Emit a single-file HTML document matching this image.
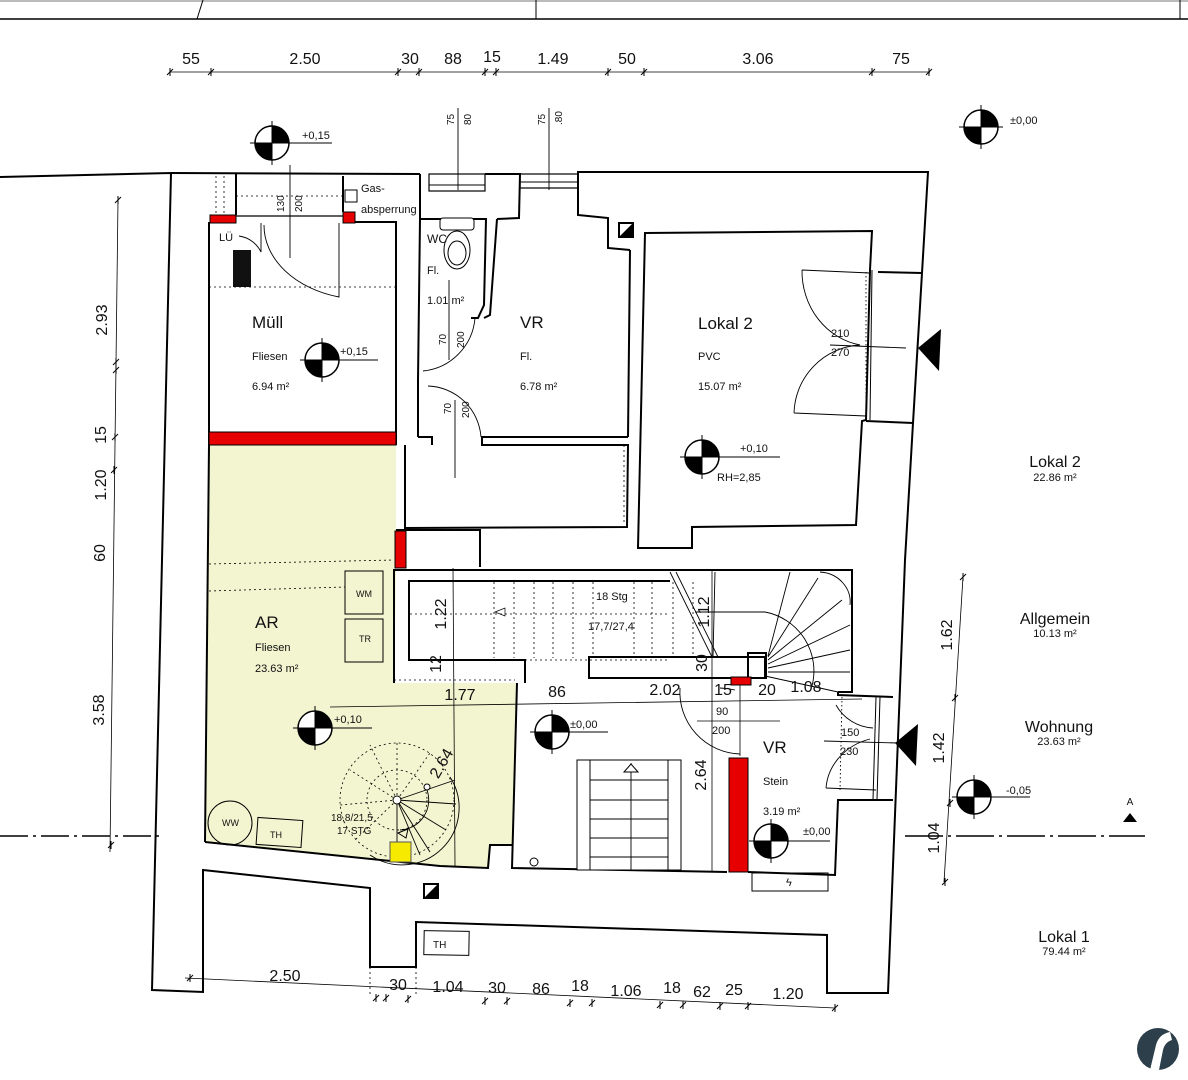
<!DOCTYPE html>
<html><head><meta charset="utf-8"><style>
html,body{margin:0;padding:0;background:#fff;width:1188px;height:1080px;overflow:hidden}
svg{display:block}
text{font-family:"Liberation Sans",sans-serif;fill:#111}
</style></head><body>
<svg width="1188" height="1080" viewBox="0 0 1188 1080" xmlns="http://www.w3.org/2000/svg">
<defs>
<g id="lvl">
<circle r="17" fill="#fff" stroke="#000" stroke-width="1.5"/>
<path d="M0,0 L0,-17 A17,17 0 0 1 17,0 Z" fill="#000"/>
<path d="M0,0 L0,17 A17,17 0 0 1 -17,0 Z" fill="#000"/>
<line x1="-22" y1="0" x2="22" y2="0" stroke="#000"/>
<line x1="0" y1="-22" x2="0" y2="22" stroke="#000"/>
</g>
<g id="tk"><line x1="-3" y1="3" x2="3" y2="-3" stroke="#000"/><line x1="0" y1="-4" x2="0" y2="4" stroke="#000"/></g>
</defs>

<!-- top strip -->
<line x1="0" y1="19" x2="1188" y2="19" stroke="#000" stroke-width="1.5"/>
<line x1="0" y1="1" x2="1188" y2="1" stroke="#bbb" stroke-width="2"/>
<line x1="536" y1="0" x2="536" y2="19" stroke="#000"/>
<line x1="1180" y1="0" x2="1180" y2="19" stroke="#000"/>
<line x1="203" y1="0" x2="197" y2="19" stroke="#000"/>

<!-- top dimension -->
<line x1="170" y1="72" x2="930" y2="72" stroke="#000" stroke-width="0.8"/>
<g><use href="#tk" x="170" y="72"/><use href="#tk" x="211" y="72"/><use href="#tk" x="398" y="72"/><use href="#tk" x="419" y="72"/><use href="#tk" x="485" y="72"/><use href="#tk" x="496" y="72"/><use href="#tk" x="608" y="72"/><use href="#tk" x="644" y="72"/><use href="#tk" x="872" y="72"/><use href="#tk" x="929" y="72"/></g>
<g font-size="16" text-anchor="middle">
<text x="191" y="64">55</text><text x="305" y="64">2.50</text><text x="410" y="64">30</text><text x="453" y="64">88</text><text x="492" y="62">15</text><text x="553" y="64">1.49</text><text x="627" y="64">50</text><text x="758" y="64">3.06</text><text x="901" y="64">75</text>
</g>

<!-- left dimension -->
<line x1="118" y1="200" x2="110" y2="852" stroke="#000" stroke-width="0.8"/>
<g><use href="#tk" x="118" y="200"/><use href="#tk" x="116" y="362"/><use href="#tk" x="116" y="370"/><use href="#tk" x="115" y="437"/><use href="#tk" x="114" y="470"/><use href="#tk" x="111" y="845"/></g>
<g font-size="16" text-anchor="middle">
<text transform="translate(107,320) rotate(-90)">2.93</text>
<text transform="translate(106,435) rotate(-90)">15</text>
<text transform="translate(106,485) rotate(-90)">1.20</text>
<text transform="translate(105,553) rotate(-90)">60</text>
<text transform="translate(104,710) rotate(-90)">3.58</text>
</g>

<!-- right dimension -->
<line x1="963" y1="577" x2="944" y2="882" stroke="#000" stroke-width="0.8"/>
<g><use href="#tk" x="963" y="577"/><use href="#tk" x="955" y="698"/><use href="#tk" x="950" y="803"/><use href="#tk" x="945" y="882"/></g>
<g font-size="16" text-anchor="middle">
<text transform="translate(952,635) rotate(-90)">1.62</text>
<text transform="translate(944,748) rotate(-90)">1.42</text>
<text transform="translate(939,838) rotate(-90)">1.04</text>
</g>

<!-- dash-dot section line -->
<line x1="0" y1="836" x2="160" y2="836" stroke="#000" stroke-width="1.5" stroke-dasharray="28,5,3,5"/>
<line x1="905" y1="836" x2="1145" y2="836" stroke="#000" stroke-width="1.5" stroke-dasharray="38,5,3,5"/>
<polygon points="1123,822 1137,822 1130,813" fill="#000"/>
<text x="1130" y="805" font-size="10" text-anchor="middle">A</text>

<!-- AR fill -->
<polygon points="209,445 396,445 396,570 394,683 517,683 512,845 490,845 488,868 440,866 205,842" fill="#f2f5cf"/>

<g fill="none" stroke="#000" stroke-width="2">
<!-- outer outline -->
<polyline points="0,177 171,173 152,990 203,992 203,870 370,888 370,967 416,967 416,922 827,935 827,993 888,993 905,560 913,423 922,273 928,172 578,172 578,215 608,218 608,248 630,250"/>
<line x1="171" y1="173" x2="420" y2="174"/>
<!-- top windows -->
<polyline points="420,174 420,218"/>
<rect x="429" y="174" width="56" height="17" stroke-width="1.2"/>
<line x1="429" y1="185" x2="485" y2="185" stroke-width="1"/>
<polyline points="485,174 520,174 519,218 497,219"/>
<rect x="520" y="174" width="58" height="14" stroke-width="1.2"/>
<line x1="520" y1="182" x2="578" y2="182" stroke-width="1"/>
<!-- Gas -->
<polyline points="343,212 343,176"/>
<rect x="345" y="190" width="12" height="12" stroke-width="1"/>
<polyline points="236,215 236,174"/>
<line x1="236" y1="216" x2="343" y2="216" stroke-width="1.2"/>
<!-- Müll -->
<polyline points="209,222 209,445"/>
<polyline points="355,222 396,222 396,445"/>
<!-- WC -->
<polyline points="418,437 418,380 420,219 486,219 484,305 478,318 471,318"/>
<polyline points="418,437 432,437 432,445"/>
<polyline points="405,445 405,528 627,527 628,445 482,445 482,437 628,437"/>
<!-- VR -->
<polyline points="497,219 490,315 484,318"/>
<polyline points="630,250 628,437"/>
<!-- Lokal 2 -->
<polygon points="645,233 872,231 870,270 866,420 862,421 856,525 692,527 692,548 638,548"/>
<polyline points="878,272 922,273"/>
<polyline points="866,421 913,423"/>
<!-- small wall between -->
<polyline points="396,530 480,530 480,567"/>
<!-- stair box -->
<polyline points="394,683 394,570 852,570 852,692 838,692"/>
<polyline points="525,683 525,660 409,660 409,581 670,581"/>
<rect x="589" y="657" width="176" height="21"/>
<rect x="748" y="653" width="18" height="25"/>
<!-- lower hall -->
<polyline points="517,683 512,868 727,872"/>
<polyline points="748,872 835,875 838,800 893,800"/>
<polyline points="838,692 838,695 893,697"/>
<rect x="752" y="873" width="76" height="18" stroke-width="1"/>
<!-- AR -->
<polyline points="205,842 440,866 488,868 490,845 512,845"/>
<polyline points="209,445 205,842"/>
</g>

<!-- red walls -->
<g fill="#e60000" stroke="#000" stroke-width="1">
<rect x="210" y="215" width="26" height="8"/>
<rect x="343" y="212" width="12" height="11"/>
<rect x="209" y="432" width="187" height="13"/>
<rect x="395" y="531" width="11" height="37"/>
<rect x="731" y="677" width="20" height="8"/>
<rect x="729" y="758" width="19" height="114"/>
</g>

<!-- details Müll -->
<rect x="233" y="250" width="18" height="37" fill="#111"/>
<line x1="209" y1="287" x2="396" y2="287" stroke="#000" stroke-dasharray="2,3" stroke-width="0.8"/>
<path d="M261,223 L261,252 A29,29 0 0 0 239,236" fill="none" stroke="#000" stroke-width="0.9"/>
<path d="M339,223 L339,297 A100,74 0 0 1 264,225" fill="none" stroke="#000" stroke-width="0.9"/>
<line x1="290" y1="165" x2="290" y2="258" stroke="#000" stroke-width="0.9"/>
<text transform="translate(284,212) rotate(-90)" font-size="10">130</text>
<text transform="translate(302,212) rotate(-90)" font-size="10">200</text>
<line x1="236" y1="196" x2="343" y2="196" stroke="#000" stroke-dasharray="2,3" stroke-width="0.8"/>
<line x1="216" y1="176" x2="216" y2="215" stroke="#000" stroke-dasharray="2,3" stroke-width="0.8"/>
<line x1="224" y1="176" x2="224" y2="215" stroke="#000" stroke-dasharray="2,3" stroke-width="0.8"/>
<text x="219" y="241" font-size="11">LÜ</text>
<text x="361" y="192" font-size="11">Gas-</text>
<text x="361" y="213" font-size="11">absperrung</text>
<text x="252" y="328" font-size="17">Müll</text>
<text x="252" y="360" font-size="11">Fliesen</text>
<text x="252" y="390" font-size="11">6.94 m²</text>
<use href="#lvl" x="322" y="360"/><line x1="338" y1="360" x2="378" y2="360" stroke="#000"/>
<text x="340" y="355" font-size="11">+0,15</text>
<use href="#lvl" x="272" y="143"/><line x1="288" y1="143" x2="332" y2="143" stroke="#000"/>
<text x="302" y="139" font-size="11">+0,15</text>

<!-- WC details -->
<rect x="440" y="218" width="34" height="12" rx="3" fill="#fff" stroke="#000"/>
<ellipse cx="457" cy="250" rx="13" ry="19" fill="#fff" stroke="#000"/>
<ellipse cx="457" cy="253" rx="9" ry="12" fill="none" stroke="#000"/>
<text x="427" y="243" font-size="12">WC</text>
<text x="427" y="274" font-size="11">Fl.</text>
<text x="427" y="304" font-size="11">1.01 m²</text>
<path d="M423,371 A58,58 0 0 0 475,318" fill="none" stroke="#000" stroke-width="0.9"/>
<line x1="449" y1="280" x2="449" y2="360" stroke="#000" stroke-width="0.9"/>
<text transform="translate(446,345) rotate(-90)" font-size="10">70</text>
<text transform="translate(464,348) rotate(-90)" font-size="10">200</text>
<path d="M428,386 A55,55 0 0 1 481,437" fill="none" stroke="#000" stroke-width="0.9"/>
<line x1="455" y1="400" x2="455" y2="478" stroke="#000" stroke-width="0.9"/>
<text transform="translate(451,414) rotate(-90)" font-size="10">70</text>
<text transform="translate(469,418) rotate(-90)" font-size="10">200</text>
<line x1="624" y1="445" x2="624" y2="525" stroke="#000" stroke-dasharray="2,3" stroke-width="0.8"/>
<text x="520" y="328" font-size="17">VR</text>
<text x="520" y="360" font-size="11">Fl.</text>
<text x="520" y="390" font-size="11">6.78 m²</text>
<line x1="458" y1="108" x2="458" y2="190" stroke="#000" stroke-width="0.9"/>
<text transform="translate(454,125) rotate(-90)" font-size="10">75</text>
<text transform="translate(471,125) rotate(-90)" font-size="10">80</text>
<line x1="549" y1="108" x2="549" y2="190" stroke="#000" stroke-width="0.9"/>
<text transform="translate(545,125) rotate(-90)" font-size="10">75</text>
<text transform="translate(562,125) rotate(-90)" font-size="10">.80</text>
<rect x="619" y="223" width="14" height="14" fill="#fff" stroke="#000" stroke-width="2"/>
<polygon points="633,223 633,237 619,237" fill="#000"/>

<!-- Lokal 2 details -->
<text x="698" y="329" font-size="17">Lokal 2</text>
<text x="698" y="360" font-size="11">PVC</text>
<text x="698" y="390" font-size="11">15.07 m²</text>
<path d="M802,270 L870,273 M802,270 A70,75 0 0 0 860,345" fill="none" stroke="#000" stroke-width="0.9"/>
<path d="M794,413 L866,416 M794,413 A70,70 0 0 1 860,345" fill="none" stroke="#000" stroke-width="0.9"/>
<line x1="830" y1="345" x2="906" y2="348" stroke="#000" stroke-width="0.9"/>
<line x1="866" y1="272" x2="866" y2="420" stroke="#000" stroke-dasharray="1.5,2.5" stroke-width="0.9"/>
<line x1="872" y1="270" x2="870" y2="420" stroke="#000" stroke-width="1"/>
<text x="831" y="337" font-size="11">210</text>
<text x="831" y="356" font-size="11">270</text>
<polygon points="918,348 941,329 939,371" fill="#000"/>
<use href="#lvl" x="702" y="457"/><line x1="718" y1="457" x2="780" y2="457" stroke="#000"/>
<text x="740" y="452" font-size="11">+0,10</text>
<text x="717" y="481" font-size="11">RH=2,85</text>
<use href="#lvl" x="981" y="127"/>
<text x="1010" y="124" font-size="11">±0,00</text>

<!-- stairs -->
<g stroke="#000" stroke-width="0.8" stroke-dasharray="2,3" fill="none">
<line x1="410" y1="614" x2="670" y2="614"/>
<line x1="410" y1="660" x2="670" y2="660"/>
<line x1="494" y1="582" x2="494" y2="658"/><line x1="514" y1="582" x2="514" y2="658"/><line x1="534" y1="582" x2="534" y2="658"/><line x1="553" y1="582" x2="553" y2="658"/><line x1="573" y1="582" x2="573" y2="658"/><line x1="593" y1="582" x2="593" y2="658"/><line x1="634" y1="582" x2="634" y2="658"/><line x1="652" y1="582" x2="652" y2="658"/><line x1="673" y1="582" x2="673" y2="658"/><line x1="693" y1="582" x2="693" y2="658"/>
<line x1="394" y1="680" x2="515" y2="680"/>
</g>
<g stroke="#000" stroke-width="0.9" fill="none">
<line x1="670" y1="572" x2="712" y2="657"/><line x1="676" y1="572" x2="718" y2="657"/>
<line x1="715" y1="572" x2="713" y2="657"/>
<line x1="768" y1="656" x2="790" y2="572"/>
<line x1="768" y1="657" x2="818" y2="578"/>
<line x1="768" y1="660" x2="842" y2="600"/>
<line x1="768" y1="664" x2="850" y2="625"/>
<line x1="768" y1="668" x2="850" y2="650"/>
<line x1="768" y1="672" x2="850" y2="672"/>
<line x1="765" y1="676" x2="838" y2="692"/>
<path d="M820,572 A32,30 0 0 1 850,605"/>
<path d="M695,612 L765,612 A60,60 0 0 1 812,686"/>
<path d="M735,690 A70,70 0 0 0 720,688"/>
</g>
<text x="596" y="600" font-size="11">18 Stg</text>
<text x="588" y="630" font-size="11">17,7/27,4</text>
<path d="M495,612 L505,608 L505,616 Z" fill="none" stroke="#000" stroke-width="0.7"/>
<g font-size="16" text-anchor="middle">
<text transform="translate(446,614) rotate(-90)">1.22</text>
<text transform="translate(441,664) rotate(-90)">12</text>
<text transform="translate(709,612) rotate(-90)">1.12</text>
<text transform="translate(707,663) rotate(-90)">30</text>
<text x="460" y="700">1.77</text><text x="557" y="697">86</text><text x="665" y="695">2.02</text><text x="723" y="695">15</text><text x="767" y="695">20</text><text x="806" y="692">1.08</text>
<text transform="translate(706,775) rotate(-90)">2.64</text>
<text transform="translate(446,766) rotate(-60)">2.64</text>
</g>
<line x1="453" y1="568" x2="455" y2="866" stroke="#000" stroke-width="0.8"/>
<line x1="330" y1="707" x2="862" y2="699" stroke="#000" stroke-width="0.8"/>
<line x1="712" y1="570" x2="712" y2="872" stroke="#000" stroke-width="0.8"/>
<line x1="740" y1="685" x2="740" y2="756" stroke="#000" stroke-width="0.8"/>
<line x1="697" y1="721" x2="780" y2="721" stroke="#000" stroke-width="0.8"/>
<text x="716" y="715" font-size="11">90</text>
<text x="712" y="734" font-size="11">200</text>
<path d="M680,688 A62,62 0 0 0 740,754" fill="none" stroke="#000" stroke-width="0.9"/>

<!-- lower hall -->
<use href="#lvl" x="552" y="732"/><line x1="568" y1="732" x2="608" y2="732" stroke="#000"/>
<text x="570" y="728" font-size="11">±0,00</text>
<rect x="577" y="760" width="104" height="110" fill="#fff" stroke="#000"/>
<rect x="590" y="760" width="78" height="110" fill="none" stroke="#000"/>
<g stroke="#000" stroke-width="0.9"><line x1="590" y1="780" x2="668" y2="780"/><line x1="590" y1="800" x2="668" y2="800"/><line x1="590" y1="819" x2="668" y2="819"/><line x1="590" y1="838" x2="668" y2="838"/><line x1="590" y1="857" x2="668" y2="857"/><line x1="631" y1="763" x2="631" y2="870"/></g>
<polygon points="624,772 638,772 631,764" fill="#fff" stroke="#000"/>
<circle cx="534" cy="862" r="4" fill="#fff" stroke="#000"/>
<text x="763" y="753" font-size="17">VR</text>
<text x="763" y="785" font-size="11">Stein</text>
<text x="763" y="815" font-size="11">3.19 m²</text>
<use href="#lvl" x="771" y="841"/><line x1="787" y1="841" x2="830" y2="841" stroke="#000"/>
<text x="803" y="835" font-size="11">±0,00</text>
<text x="786" y="886" font-size="11">ϟ</text>
<path d="M836,705 A45,45 0 0 0 873,728" fill="none" stroke="#000" stroke-width="0.9"/>
<path d="M826,788 L876,790 M826,788 A60,55 0 0 1 870,739" fill="none" stroke="#000" stroke-width="0.9"/>
<line x1="824" y1="741" x2="898" y2="743" stroke="#000" stroke-width="0.9"/>
<line x1="842" y1="697" x2="840" y2="790" stroke="#000" stroke-dasharray="1.5,2.5" stroke-width="0.9"/>
<line x1="876" y1="697" x2="873" y2="800" stroke="#000" stroke-width="1"/>
<line x1="880" y1="697" x2="877" y2="800" stroke="#000" stroke-width="1"/>
<text x="841" y="736" font-size="11">150</text>
<text x="840" y="755" font-size="11">230</text>
<polygon points="895,743 918,724 916,766" fill="#000"/>
<use href="#lvl" x="974" y="797"/><line x1="990" y1="797" x2="1030" y2="797" stroke="#000"/>
<text x="1006" y="794" font-size="11">-0,05</text>

<!-- AR details -->
<text x="255" y="628" font-size="17">AR</text>
<text x="255" y="651" font-size="11">Fliesen</text>
<text x="255" y="672" font-size="11">23.63 m²</text>
<rect x="345" y="571" width="38" height="43" fill="none" stroke="#000"/>
<text x="356" y="597" font-size="9">WM</text>
<rect x="345" y="619" width="38" height="43" fill="none" stroke="#000"/>
<text x="359" y="642" font-size="9">TR</text>
<line x1="209" y1="564" x2="394" y2="560" stroke="#000" stroke-dasharray="2,3" stroke-width="0.8"/>
<line x1="209" y1="591" x2="345" y2="587" stroke="#000" stroke-dasharray="2,3" stroke-width="0.8"/>
<use href="#lvl" x="315" y="728"/><line x1="331" y1="728" x2="372" y2="728" stroke="#000"/>
<text x="334" y="723" font-size="11">+0,10</text>
<circle cx="230" cy="823" r="22" fill="none" stroke="#000"/>
<text x="222" y="826" font-size="9">WW</text>
<rect x="257" y="819" width="45" height="27" fill="none" stroke="#000" transform="rotate(4 280 832)"/>
<text x="270" y="838" font-size="9">TH</text>
<g stroke="#000" stroke-width="0.8" fill="none" stroke-dasharray="2,3">
<circle cx="397" cy="800" r="57"/><circle cx="397" cy="800" r="30"/>
<line x1="397" y1="800" x2="397" y2="743"/><line x1="397" y1="800" x2="350" y2="770"/><line x1="397" y1="800" x2="340" y2="805"/><line x1="397" y1="800" x2="355" y2="840"/><line x1="397" y1="800" x2="430" y2="753"/><line x1="397" y1="800" x2="370" y2="745"/>
</g>
<g stroke="#000" stroke-width="0.9" fill="none">
<line x1="397" y1="800" x2="455" y2="780"/><line x1="397" y1="800" x2="456" y2="804"/><line x1="397" y1="800" x2="446" y2="830"/><line x1="397" y1="800" x2="430" y2="852"/><line x1="397" y1="800" x2="420" y2="855"/><line x1="397" y1="800" x2="397" y2="858"/>
<path d="M450,777 A57,57 0 0 1 370,855"/>
<path d="M427,790 A30,30 0 0 1 400,830"/>
</g>
<circle cx="397" cy="800" r="4" fill="#fff" stroke="#000"/>
<circle cx="427" cy="787" r="3" fill="#fff" stroke="#000"/>
<polygon points="398,833 408,829 406,838" fill="none" stroke="#000"/>
<rect x="390" y="842" width="21" height="20" fill="#f5ea00" stroke="#555"/>
<text x="331" y="821" font-size="10">18,8/21,5</text>
<text x="337" y="834" font-size="10">17 STG</text>
<rect x="424" y="884" width="14" height="14" fill="#fff" stroke="#000" stroke-width="2"/>
<polygon points="438,884 438,898 424,898" fill="#000"/>

<!-- lower room -->
<rect x="424" y="931" width="45" height="24" fill="none" stroke="#000" transform="rotate(1 446 943)"/>
<text x="433" y="948" font-size="10">TH</text>
<line x1="370" y1="967" x2="370" y2="996" stroke="#000" stroke-dasharray="2,3" stroke-width="0.8"/>
<line x1="416" y1="967" x2="416" y2="996" stroke="#000" stroke-dasharray="2,3" stroke-width="0.8"/>

<!-- bottom dimension -->
<line x1="185" y1="978" x2="835" y2="1008" stroke="#000" stroke-width="0.8"/>
<g><use href="#tk" x="190" y="978"/><use href="#tk" x="376" y="998"/><use href="#tk" x="386" y="998"/><use href="#tk" x="408" y="999"/><use href="#tk" x="485" y="1001"/><use href="#tk" x="507" y="1001"/><use href="#tk" x="570" y="1003"/><use href="#tk" x="592" y="1003"/><use href="#tk" x="660" y="1005"/><use href="#tk" x="683" y="1005"/><use href="#tk" x="720" y="1006"/><use href="#tk" x="748" y="1006"/><use href="#tk" x="835" y="1008"/></g>
<g font-size="16" text-anchor="middle">
<text x="285" y="981">2.50</text><text x="398" y="990">30</text><text x="448" y="992">1.04</text><text x="497" y="993">30</text><text x="541" y="994">86</text><text x="580" y="991">18</text><text x="626" y="996">1.06</text><text x="672" y="993">18</text><text x="702" y="997">62</text><text x="734" y="995">25</text><text x="788" y="999">1.20</text>
</g>

<!-- legend -->
<g text-anchor="middle">
<text x="1055" y="467" font-size="16">Lokal 2</text><text x="1055" y="481" font-size="11">22.86 m²</text>
<text x="1055" y="624" font-size="16">Allgemein</text><text x="1055" y="637" font-size="11">10.13 m²</text>
<text x="1059" y="732" font-size="16">Wohnung</text><text x="1059" y="745" font-size="11">23.63 m²</text>
<text x="1064" y="942" font-size="16">Lokal 1</text><text x="1064" y="955" font-size="11">79.44 m²</text>
</g>

<!-- logo -->
<circle cx="1158" cy="1049" r="21" fill="#2d3f4a"/>
<path d="M1150,1070 L1156,1045 Q1159,1034 1170,1032 L1172,1040 Q1165,1042 1163,1050 L1159,1070 Z" fill="#fff"/>
</svg>
</body></html>
